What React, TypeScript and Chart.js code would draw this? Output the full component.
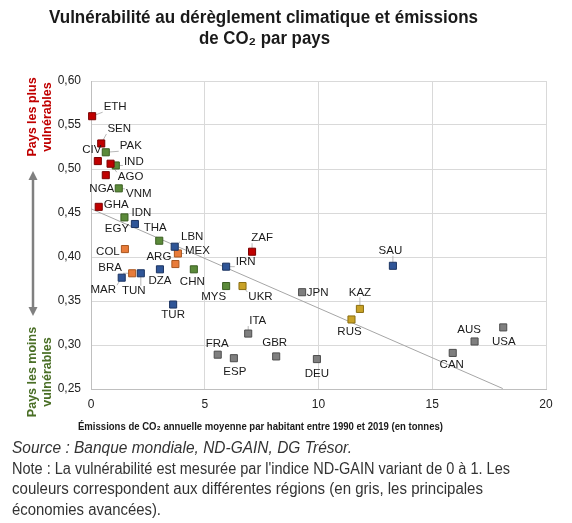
import React, { useEffect, useRef } from "react";
import { Chart, registerables } from "chart.js";
Chart.register(...registerables);

const FONT = "'Liberation Sans', Arial, Helvetica, sans-serif";

// ---- Data ----
const countries = [
  "ETH", "SEN", "PAK", "CIV", "AGO", "IND", "NGA", "VNM", "GHA", "IDN",
  "EGY", "THA", "LBN", "MEX", "COL", "ARG", "DZA", "CHN", "BRA", "TUN",
  "MAR", "TUR", "ZAF", "IRN", "MYS", "UKR", "JPN", "KAZ", "RUS", "SAU",
  "DEU", "ITA", "FRA", "ESP", "GBR", "AUS", "USA", "CAN",
];
const emissions = [
  0.05, 0.45, 0.65, 0.3, 0.86, 1.09, 0.65, 1.22, 0.34, 1.47,
  1.93, 3.0, 3.68, 3.82, 1.49, 3.71, 3.03, 4.52, 1.81, 2.19,
  1.35, 3.61, 7.08, 5.94, 5.94, 6.66, 9.28, 11.82, 11.45, 13.27,
  9.93, 6.91, 5.57, 6.28, 8.14, 16.86, 18.12, 15.9,
];
const vulnerability = [
  0.56, 0.529, 0.519, 0.509, 0.506, 0.504, 0.493, 0.478, 0.457, 0.445,
  0.4375, 0.4185, 0.4117, 0.404, 0.409, 0.392, 0.386, 0.386, 0.3815, 0.3815,
  0.3765, 0.346, 0.406, 0.389, 0.367, 0.367, 0.36, 0.341, 0.329, 0.39,
  0.284, 0.313, 0.289, 0.285, 0.287, 0.304, 0.32, 0.291,
];
// 0 Afrique subsaharienne, 1 Asie, 2 Moyen-Orient & Afrique du Nord, 3 Amérique latine, 4 Europe & Asie centrale, 5 économies avancées
const regionOf = [
  0, 0, 1, 0, 0, 1, 0, 1, 0, 1,
  2, 1, 2, 3, 3, 3, 2, 1, 3, 2,
  2, 2, 0, 2, 1, 4, 5, 4, 4, 2,
  5, 5, 5, 5, 5, 5, 5, 5,
];
const regionNames = [
  "Afrique subsaharienne", "Asie", "Moyen-Orient et Afrique du Nord",
  "Amérique latine", "Europe et Asie centrale", "Principales économies avancées",
];
const trendX = [0, 18.1];
const trendY = [0.4548, 0.2505];

const xMin = 0, xMax = 20, xStep = 5;
const yMin = 0.25, yMax = 0.6, yStep = 0.05;

// ---- Styles / label placement (pixels) ----
const regionFill = ["#C00000", "#5B8A3A", "#2F5597", "#E97C3A", "#C9A227", "#7F7F7F"];
const regionBorder = ["#7A0000", "#3B5E22", "#1C3461", "#A8561F", "#8A6E12", "#4D4D4D"];

const labelDx = [
  23, 18, 25, -6, 20, 18, -4, 20, 17.5, 17,
  -18, -4, 17.5, 19.5, -17, -16.5, 0, -1.5, -22, -7,
  -18.5, 0, 10, 19.5, -12.5, 18, 15.5, 0, -2, -2.5,
  0, 9.5, -0.5, 1, -1.5, -5.5, 0.5, -1,
];
const labelDy = [
  -9, -14.5, -6, -11, 13.5, -4, 13.5, 5.5, -2.5, -4.5,
  4.5, -12.5, -10, -2.5, 2.5, -7.5, 12, 12.5, -5, 17.5,
  12.5, 10, -13.5, -4.5, 11, 11, 1, -16.5, 12.5, -15,
  15, -12.5, -11, 13.5, -13.5, -12, 14.5, 12,
];
const leader = [
  1, 1, 1, 0, 1, 1, 0, 1, 0, 0,
  0, 0, 1, 1, 0, 0, 0, 0, 1, 1,
  1, 0, 1, 1, 0, 1, 0, 1, 0, 1,
  0, 1, 0, 0, 0, 0, 0, 0,
];

function drawFit(ctx: CanvasRenderingContext2D, text: string, left: number, y: number, targetW: number) {
  const w = ctx.measureText(text).width;
  const s = targetW / w;
  ctx.save();
  ctx.translate(left, y);
  ctx.scale(s, 1);
  ctx.textAlign = "left";
  ctx.fillText(text, 0, 0);
  ctx.restore();
}

const LABEL_FONT = `11.5px ${FONT}`;

const annotPlugin = {
  id: "annot",
  beforeDatasetsDraw(chart: any) {
    const { ctx, scales } = chart;
    const xs = scales.x, ys = scales.y;
    ctx.save();
    ctx.font = LABEL_FONT;
    ctx.strokeStyle = "#a6a6a6";
    ctx.lineWidth = 0.8;
    countries.forEach((c, i) => {
      if (!leader[i]) return;
      const px = xs.getPixelForValue(emissions[i]);
      const py = ys.getPixelForValue(vulnerability[i]);
      const lx = px + labelDx[i], ly = py + labelDy[i];
      const hw = ctx.measureText(c).width / 2 + 1, hh = 5;
      const sx = Math.min(Math.max(px, lx - hw), lx + hw);
      const sy = Math.min(Math.max(py, ly - hh), ly + hh);
      ctx.beginPath();
      ctx.moveTo(sx, sy);
      ctx.lineTo(px, py);
      ctx.stroke();
    });
    ctx.restore();
  },
  afterDatasetsDraw(chart: any) {
    const { ctx, scales } = chart;
    const xs = scales.x, ys = scales.y;
    ctx.save();
    ctx.font = LABEL_FONT;
    ctx.fillStyle = "#1a1a1a";
    ctx.textAlign = "center";
    ctx.textBaseline = "middle";
    countries.forEach((c, i) => {
      const px = xs.getPixelForValue(emissions[i]);
      const py = ys.getPixelForValue(vulnerability[i]);
      ctx.fillText(c, px + labelDx[i], py + labelDy[i]);
    });
    ctx.restore();
  },
  afterDraw(chart: any) {
    const { ctx } = chart;
    ctx.save();
    ctx.textBaseline = "middle";
    // Title
    ctx.fillStyle = "#1a1a1a";
    ctx.font = `bold 18px ${FONT}`;
    drawFit(ctx, "Vulnérabilité au dérèglement climatique et émissions", 49, 18, 429);
    drawFit(ctx, "de CO₂ par pays", 199, 39, 131);
    // x-axis title
    ctx.font = `bold 11px ${FONT}`;
    drawFit(ctx, "Émissions de CO₂ annuelle moyenne par habitant entre 1990 et 2019 (en tonnes)", 78, 427, 365);
    // Source / note
    ctx.fillStyle = "#333333";
    ctx.font = `italic 16px ${FONT}`;
    drawFit(ctx, "Source : Banque mondiale, ND-GAIN, DG Trésor.", 12, 449, 340);
    ctx.font = `16px ${FONT}`;
    drawFit(ctx, "Note : La vulnérabilité est mesurée par l'indice ND-GAIN variant de 0 à 1. Les", 12, 469.5, 498);
    drawFit(ctx, "couleurs correspondent aux différentes régions (en gris, les principales", 12, 490, 471);
    drawFit(ctx, "économies avancées).", 12, 510.5, 149);
    // Side labels
    ctx.font = `bold 12.5px ${FONT}`;
    ctx.textAlign = "center";
    const side = (t: string, x: number, y: number, col: string) => {
      ctx.save();
      ctx.translate(x, y);
      ctx.rotate(-Math.PI / 2);
      ctx.fillStyle = col;
      ctx.fillText(t, 0, 0);
      ctx.restore();
    };
    side("Pays les plus", 33, 117, "#C00000");
    side("vulnérables", 48, 117, "#C00000");
    side("Pays les moins", 33, 372, "#4A6F26");
    side("vulnérables", 48, 372, "#4A6F26");
    // Arrow
    ctx.strokeStyle = "#808080";
    ctx.fillStyle = "#808080";
    ctx.lineWidth = 2.5;
    ctx.beginPath();
    ctx.moveTo(33, 178);
    ctx.lineTo(33, 309);
    ctx.stroke();
    ctx.beginPath();
    ctx.moveTo(33, 171);
    ctx.lineTo(28.5, 180);
    ctx.lineTo(37.5, 180);
    ctx.closePath();
    ctx.fill();
    ctx.beginPath();
    ctx.moveTo(33, 316);
    ctx.lineTo(28.5, 307);
    ctx.lineTo(37.5, 307);
    ctx.closePath();
    ctx.fill();
    ctx.restore();
  },
};

export default function App() {
  const ref = useRef<HTMLCanvasElement>(null);
  useEffect(() => {
    if (!ref.current) return;
    const datasets: any[] = regionNames.map((name, r) => ({
      type: "scatter",
      label: name,
      data: countries
        .map((c, i) => ({ x: emissions[i], y: vulnerability[i], r: regionOf[i] }))
        .filter((d) => d.r === r)
        .map((d) => ({ x: d.x, y: d.y })),
      pointStyle: "rect",
      pointRadius: 5,
      pointHoverRadius: 5,
      backgroundColor: regionFill[r],
      borderColor: regionBorder[r],
      borderWidth: 1,
      clip: false,
      order: 1,
    }));
    datasets.push({
      type: "line",
      label: "Tendance",
      data: trendX.map((x, i) => ({ x, y: trendY[i] })),
      borderColor: "#a6a6a6",
      borderWidth: 1,
      pointRadius: 0,
      fill: false,
      order: 10,
    });
    const chart = new Chart(ref.current, {
      type: "scatter",
      data: { datasets },
      plugins: [annotPlugin],
      options: {
        animation: false,
        responsive: false,
        devicePixelRatio: 1,
        layout: { padding: { left: 40, right: 26, top: 81, bottom: 94 } },
        plugins: { legend: { display: false }, title: { display: false }, tooltip: { enabled: false } },
        scales: {
          x: {
            type: "linear",
            min: xMin,
            max: xMax,
            afterFit: (s: any) => { s.height = 40; },
            ticks: { stepSize: xStep, padding: 8, color: "#222", font: { family: FONT, size: 12 } },
            grid: { color: "#d9d9d9", drawTicks: false },
            border: { color: "#bfbfbf" },
          },
          y: {
            type: "linear",
            min: yMin,
            max: yMax,
            afterFit: (s: any) => { s.width = 51; },
            ticks: {
              stepSize: yStep,
              padding: 10,
              color: "#222",
              font: { family: FONT, size: 12 },
              callback: (v: any) => Number(v).toFixed(2).replace(".", ","),
            },
            grid: { color: "#d9d9d9", drawTicks: false },
            border: { color: "#bfbfbf" },
          },
        },
      },
    } as any);
    return () => chart.destroy();
  }, []);
  return (
    <div style={{ position: "fixed", left: 0, top: 0, width: 572, height: 523, background: "#fff" }}>
      <canvas ref={ref} width={572} height={523} />
    </div>
  );
}
